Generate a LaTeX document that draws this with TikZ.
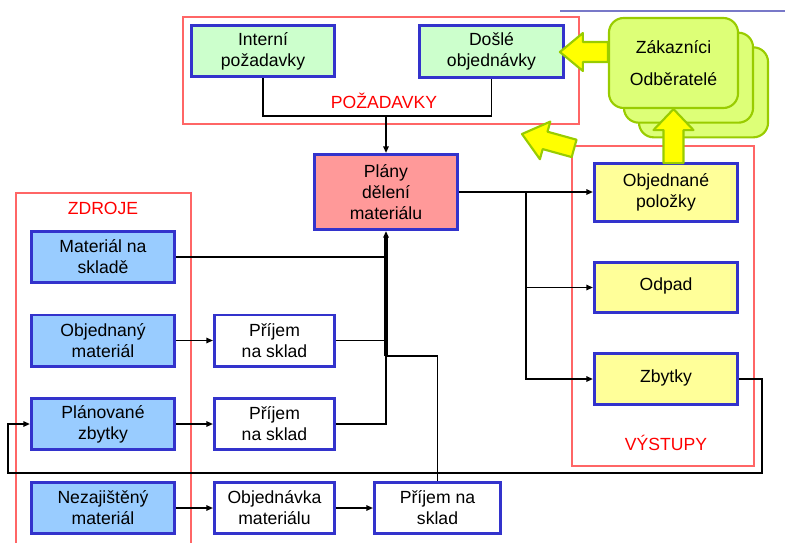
\documentclass[tikz,border=0pt]{standalone}
\usepackage{fontspec}
\setmainfont{Liberation Sans}
\usetikzlibrary{arrows.meta,shadows}

\begin{document}
\begin{tikzpicture}[x=0.75pt,y=0.75pt,yscale=-1,xscale=1,
  every node/.style={font=\fontsize{13.2}{15.75}\selectfont},
  box/.style={draw={rgb, 255:red, 51; green, 51; blue, 204}, line width=2.2pt, align=center, inner sep=0pt, minimum width=107.3pt, minimum height=38.3pt},
  reqbox/.style={box, fill={rgb, 255:red, 204; green, 255; blue, 204}},
  srcbox/.style={box, fill={rgb, 255:red, 153; green, 204; blue, 255}},
  midbox/.style={box, fill=white, minimum width=90pt},
  outbox/.style={box, fill={rgb, 255:red, 255; green, 255; blue, 153}},
  planbox/.style={box, fill={rgb, 255:red, 255; green, 153; blue, 153}},
  custcopy/.style={draw={rgb, 255:red, 153; green, 204; blue, 0}, fill={rgb, 255:red, 221; green, 255; blue, 119}, line width=1.6pt},
  custbox/.style={custcopy, rounded corners=11pt, align=center, inner sep=0pt, minimum width=96.8pt, minimum height=67.5pt,
    copy shadow={custcopy, shadow xshift=22.5pt, shadow yshift=-22pt},
    copy shadow={custcopy, shadow xshift=11.25pt, shadow yshift=-11pt}},
  grpframe/.style={draw={rgb, 255:red, 255; green, 102; blue, 102}, line width=0.8pt},
  grouplabel/.style={text={rgb, 255:red, 255; green, 0; blue, 0}},
  conn/.style={line width=1.4pt},
  arr/.style={-{Triangle[length=5pt,width=4pt]}},
  yarrow/.style={fill={rgb, 255:red, 255; green, 255; blue, 0}, draw={rgb, 255:red, 153; green, 204; blue, 0}, line width=1.6pt, line join=round}
]
\useasboundingbox (0,0) rectangle (785,543);

%Straight Lines
\draw [draw={rgb, 255:red, 120; green, 120; blue, 200}, line width=0.8pt] (560,11) -- (785,11) ;

%Shape: Rectangle
\draw [grpframe] (183,17) rectangle (579,124) ;
%Shape: Rectangle
\draw [grpframe] (572,146) rectangle (754,466) ;
%Shape: Rectangle
\draw [grpframe] (16,543) -- (16,193) -- (191,193) -- (191,543) ;

% Text Node
\node [grouplabel] (pozlbl) at (384,101) {POŽADAVKY};
% Text Node
\node [grouplabel] (zdrlbl) at (103,208) {ZDROJE};
% Text Node
\node [grouplabel] (vyslbl) at (666,443) {VÝSTUPY};

% Text Node
\node [reqbox] (intpoz) at (263,51) {Interní\\požadavky};
% Text Node
\node [reqbox, minimum width=108pt, minimum height=39pt] (dosle) at (491.5,51.5) {Došlé\\objednávky};
% Text Node
\node [planbox, minimum height=56.3pt] (plany) at (386,192) {Plány\\dělení\\materiálu};
% Text Node
\node [custbox] (zak) at (673.5,63) {Zákazníci\\[8pt]Odběratelé};

% Text Node
\node [srcbox] (matsklad) at (103,257) {Materiál na\\skladě};
% Text Node
\node [srcbox] (objmat) at (103,340.5) {Objednaný\\materiál};
% Text Node
\node [srcbox] (planzb) at (103,424) {Plánované\\zbytky};
% Text Node
\node [srcbox] (nezmat) at (103,508) {Nezajištěný\\materiál};

% Text Node
\node [midbox] (prij1) at (274.5,340.5) {Příjem\\na sklad};
% Text Node
\node [midbox] (prij2) at (274.5,424) {Příjem\\na sklad};
% Text Node
\node [midbox] (objedn) at (274.5,508) {Objednávka\\materiálu};
% Text Node
\node [midbox, minimum width=94.5pt] (prij3) at (437.5,508) {Příjem na\\sklad};

% Text Node
\node [outbox, minimum height=43.5pt] (objpol) at (666,192.5) {Objednané\\položky\vphantom{y}\rule[-3pt]{0pt}{0pt}};
% Text Node
\node [outbox, minimum height=37.5pt] (odpad) at (666,287.5) {Odpad\rule[-5pt]{0pt}{0pt}};
% Text Node
\node [outbox] (zbytky) at (666,379) {Zbytky\rule[-5pt]{0pt}{0pt}};

%Straight Lines
\coordinate (pozjun) at (386,116);
\draw [conn] (intpoz.south) |- (pozjun) -| (dosle.south) ;
\draw [conn, arr] (pozjun) -- (plany.north) ;

%Straight Lines
\coordinate (trunk) at (386,356);
\draw [conn] (matsklad.east) -- (matsklad.east -| plany.south) ;
\draw [conn] (prij1.east) -- (prij1.east -| plany.south) ;
\draw [conn] (prij2.east) -| (trunk) ;
\draw [conn] (prij3.north) |- (trunk) ;
\draw [conn, arr, line width=2.6pt] (trunk) -- (plany.south) ;

%Straight Lines
\draw [conn, arr] (objmat.east) -- (prij1.west) ;
\draw [conn, arr] (planzb.east) -- (prij2.west) ;
\draw [conn, arr] (nezmat.east) -- (objedn.west) ;
\draw [conn, arr] (objedn.east) -- (prij3.west) ;

%Straight Lines
\coordinate (outjun) at (526,192);
\draw [conn, arr] (plany.east) -- (plany.east -| objpol.west) ;
\draw [conn, arr] (outjun) |- (zbytky.west) ;
\draw [conn, arr] (outjun |- odpad.west) -- (odpad.west) ;

%Straight Lines
\coordinate (fbright) at (762,473);
\coordinate (fbleft) at (8,473);
\draw [conn, arr] (zbytky.east) -| (fbright) -- (fbleft) |- (planzb.west) ;

%Shape: Block Arrow
\draw [yarrow] (zak.west) ++(0,-11) -- ++(0,-10) -- ++(-25,0) -- ++(0,-9) -- ++(-23,19) -- ++(23,19) -- ++(0,-9) -- ++(25,0) -- cycle ;
%Shape: Block Arrow
\draw [yarrow] (zak.south) -- ++(20,21) -- ++(-10,0) -- ++(0,33) -- ++(-20,0) -- ++(0,-33) -- ++(-10,0) -- cycle ;
%Shape: Block Arrow
\draw [yarrow] (522,134) -- (550.3,121.6) -- (547.5,131.7) -- (576.5,139.7) -- (571.7,157.1) -- (542.7,149.1) -- (539.9,159.2) -- cycle ;

\end{tikzpicture}
\end{document}
